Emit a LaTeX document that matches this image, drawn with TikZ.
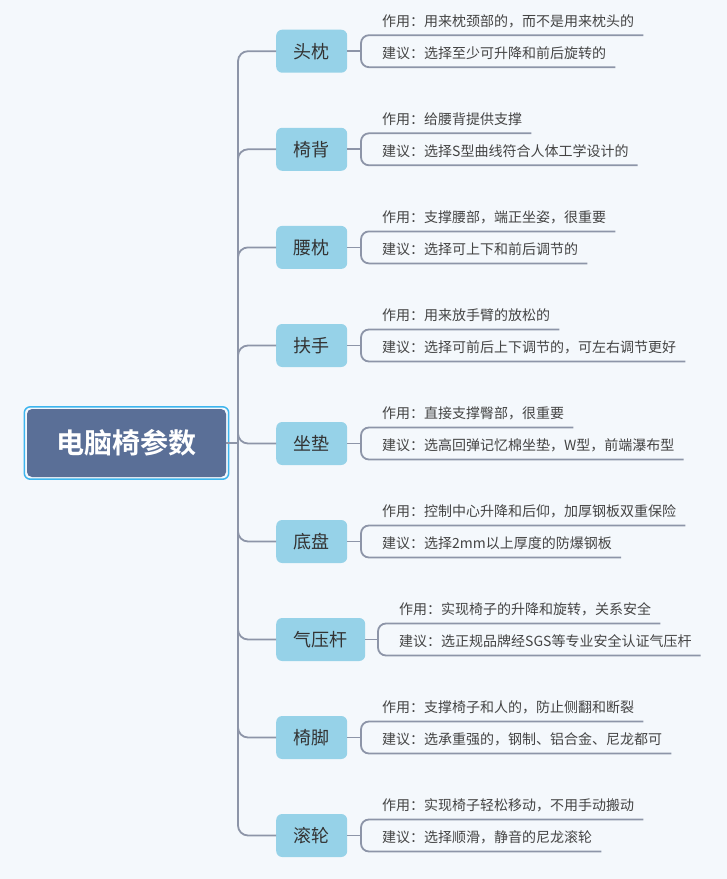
\documentclass[tikz,border=0pt]{standalone}
\usepackage{fontspec}
\newfontfamily\cjk{Noto Sans CJK SC}[BoldFont={Noto Sans CJK SC Bold}]
\usetikzlibrary{calc}
\definecolor{bg}{HTML}{F4F8FC}
\definecolor{rootfill}{HTML}{5A6F97}
\definecolor{rootedge}{HTML}{3DB5EE}
\definecolor{brfill}{HTML}{96D2E8}
\definecolor{linec}{HTML}{8D95A8}
\definecolor{brtxt}{HTML}{333333}
\definecolor{lftxt}{HTML}{444444}
\tikzset{
  rootbox/.style={fill=rootfill, rounded corners=5pt, minimum width=199pt, minimum height=68pt,
    text=white, font=\cjk\bfseries\fontsize{28}{31}\selectfont, inner sep=0pt},
  brbox/.style={fill=brfill, rounded corners=6pt, minimum height=43pt, inner sep=0pt,
    text=brtxt, font=\cjk\fontsize{18}{21}\selectfont},
  leaf/.style={inner sep=0pt, text=lftxt, font=\cjk\fontsize{14}{16}\selectfont},
  conn/.style={draw=linec, line width=1.8pt},
}
\newcommand\mybr[7]{%
  \node[brbox, minimum width=#4pt, anchor=west] (b#1) at (276,#2) {#3};
  \coordinate (k#1) at (#5,#2);
  \node[leaf, anchor=base west] (u#1) at (#5+21,#2-25) {#6};
  \node[leaf, anchor=base west] (l#1) at (#5+21,#2+7) {#7};
  \draw[conn] (b#1.east) -- (k#1);
  \draw[conn, rounded corners=8pt] ($(u#1.base east)+(9,9)$) -- ($(u#1.base west)+(-21,9)$)
     -- ($(l#1.base west)+(-21,9)$) -- ($(l#1.base east)+(9,9)$);
}
\begin{document}
\begin{tikzpicture}[x=1pt,y=-1pt]
\fill[bg] (0,0) rectangle (727,879);
\useasboundingbox (0,0) rectangle (727,879);
\coordinate (tk) at (238,443);
\node[rootbox] (root) at (126.5,443) {电脑椅参数};
\draw[rootedge, line width=1.5pt, rounded corners=6pt]
  ($(root.south west)+(-2.5,2)$) rectangle ($(root.north east)+(2.5,-2)$);
\mybr{1}{51.2}{头枕}{71}{361}{作用：用来枕颈部的，而不是用来枕头的}{建议：选择至少可升降和前后旋转的}
\mybr{2}{149.3}{椅背}{71}{361}{作用：给腰背提供支撑}{建议：选择S型曲线符合人体工学设计的}
\mybr{3}{247.4}{腰枕}{71}{361}{作用：支撑腰部，端正坐姿，很重要}{建议：选择可上下和前后调节的}
\mybr{4}{345.5}{扶手}{71}{361}{作用：用来放手臂的放松的}{建议：选择可前后上下调节的，可左右调节更好}
\mybr{5}{443.5}{坐垫}{71}{361}{作用：直接支撑臀部，很重要}{建议：选高回弹记忆棉坐垫，W型，前端瀑布型}
\mybr{6}{541.5}{底盘}{71}{361}{作用：控制中心升降和后仰，加厚钢板双重保险}{建议：选择2mm以上厚度的防爆钢板}
\mybr{7}{639.5}{气压杆}{89}{378}{作用：实现椅子的升降和旋转，关系安全}{建议：选正规品牌经SGS等专业安全认证气压杆}
\mybr{8}{737.5}{椅脚}{71}{361}{作用：支撑椅子和人的，防止侧翻和断裂}{建议：选承重强的，钢制、铝合金、尼龙都可}
\mybr{9}{835.5}{滚轮}{71}{361}{作用：实现椅子轻松移动，不用手动搬动}{建议：选择顺滑，静音的尼龙滚轮}
\draw[conn] (root.east) -- (tk);
\foreach \i in {1,...,9}{
  \draw[conn, rounded corners=10pt] (tk) -- (tk |- b\i.west) -- (b\i.west);
}
\end{tikzpicture}
\end{document}
